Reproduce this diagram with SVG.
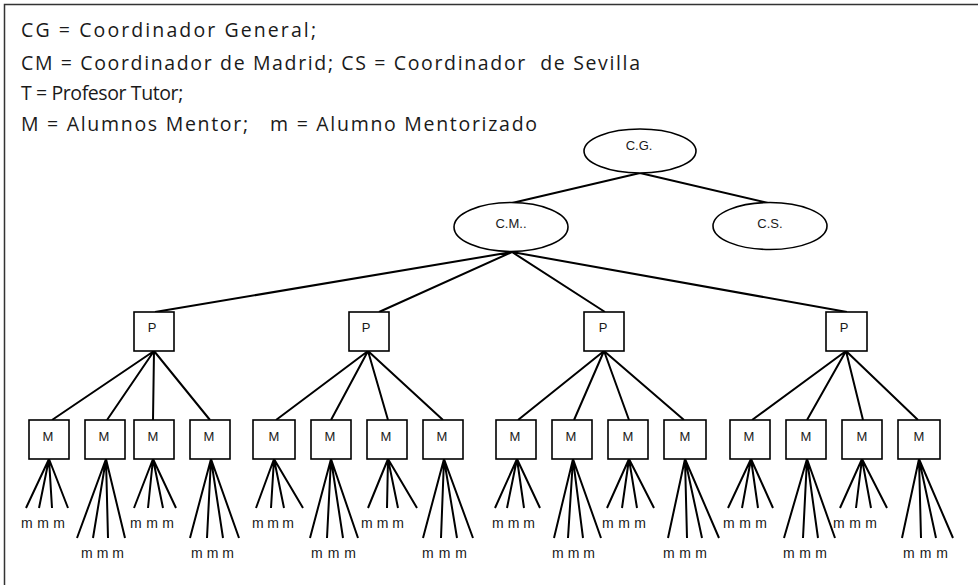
<svg xmlns="http://www.w3.org/2000/svg" width="978" height="585" viewBox="0 0 978 585">
<style>
.leg{font-family:"Open Sans","Noto Sans",sans-serif;font-size:19.5px;fill:#1a1a1a;white-space:pre}
.nd{fill:#fff;stroke:#000;stroke-width:1.6}
.lb{font-family:"Liberation Sans",Arial,sans-serif;font-size:13px;fill:#1a1a1a;text-anchor:middle}
.mm{font-family:"Liberation Sans",Arial,sans-serif;font-size:14px;fill:#1a1a1a;white-space:pre}
.c{stroke:#000;stroke-width:2;fill:none}
</style>
<rect width="978" height="585" fill="#fff"/>
<rect x="4.5" y="4.5" width="1000" height="620" fill="none" stroke="#333" stroke-width="1.5"/>
<g id="legend">
<text class="leg" x="21" y="37" textLength="295" lengthAdjust="spacing">CG = Coordinador General;</text>
<text class="leg" x="21" y="70" textLength="619" lengthAdjust="spacing" xml:space="preserve">CM = Coordinador de Madrid; CS = Coordinador  de Sevilla</text>
<text class="leg" x="21" y="100" style="letter-spacing:-0.4px">T = Profesor Tutor;</text>
<text class="leg" x="21" y="131" textLength="516" lengthAdjust="spacing" xml:space="preserve">M = Alumnos Mentor;   m = Alumno Mentorizado</text>
</g>
<g id="connectors">
<path class="c" d="M640 173L512 203M640 173L768 203"/>
<path class="c" d="M512 252L155 312M512 252L379 312M512 252L605 312M512 252L847 312"/>
<path class="c" d="M154 351L52 420M154 351L107 420M154 351L153 420M154 351L210 420"/>
<path class="c" d="M368 351L276 420M368 351L331 420M368 351L388 420M368 351L443 420"/>
<path class="c" d="M604 351L518 420M604 351L574 420M604 351L629 420M604 351L684 420"/>
<path class="c" d="M846 351L752 420M846 351L807 420M846 351L863 420M846 351L918 420"/>
<path class="c" d="M49 459L26 508M49 459L39 508M49 459L52 508M49 459L68 508"/>
<path class="c" d="M106 459L77 538M106 459L93 538M106 459L108 538M106 459L125 538"/>
<path class="c" d="M153 459L134 508M153 459L148 508M153 459L163 508M153 459L176 508"/>
<path class="c" d="M211 459L190 538M211 459L207 538M211 459L223 538M211 459L239 538"/>
<path class="c" d="M274 459L256 508M274 459L271 508M274 459L284 508M274 459L303 508"/>
<path class="c" d="M331 459L310 538M331 459L327 538M331 459L343 538M331 459L358 538"/>
<path class="c" d="M388 459L368 508M388 459L387 508M388 459L398 508M388 459L417 508"/>
<path class="c" d="M444 459L423 538M444 459L441 538M444 459L457 538M444 459L473 538"/>
<path class="c" d="M517 459L495 508M517 459L507 508M517 459L524 508M517 459L540 508"/>
<path class="c" d="M573 459L554 538M573 459L568 538M573 459L583 538M573 459L601 538"/>
<path class="c" d="M629 459L607 508M629 459L622 508M629 459L637 508M629 459L654 508"/>
<path class="c" d="M685 459L668 538M685 459L687 538M685 459L702 538M685 459L719 538"/>
<path class="c" d="M751 459L728 508M751 459L742 508M751 459L758 508M751 459L773 508"/>
<path class="c" d="M807 459L784 538M807 459L803 538M807 459L818 538M807 459L835 538"/>
<path class="c" d="M862 459L840 508M862 459L856 508M862 459L871 508M862 459L887 508"/>
<path class="c" d="M919 459L902 538M919 459L921 538M919 459L936 538M919 459L953 538"/>
</g>
<g id="CG"><ellipse class="nd" cx="640" cy="151" rx="56" ry="22"/><text class="lb" x="639" y="150">C.G.</text></g>
<g id="CM"><ellipse class="nd" cx="511" cy="227" rx="57" ry="24.5"/><text class="lb" x="511" y="228">C.M..</text></g>
<g id="CS"><ellipse class="nd" cx="770" cy="226" rx="57" ry="23.5"/><text class="lb" x="770" y="228">C.S.</text></g>
<g id="P1"><rect class="nd" x="134" y="312" width="40" height="39"/><text class="lb" x="152" y="332">P</text></g>
<g id="P2"><rect class="nd" x="349" y="312" width="40" height="39"/><text class="lb" x="366" y="332">P</text></g>
<g id="P3"><rect class="nd" x="584" y="312" width="40" height="39"/><text class="lb" x="603" y="332">P</text></g>
<g id="P4"><rect class="nd" x="826" y="312" width="41" height="39"/><text class="lb" x="844" y="332">P</text></g>
<g id="M1"><rect class="nd" x="29" y="420" width="40" height="39"/><text class="lb" x="48" y="441">M</text></g>
<g id="M2"><rect class="nd" x="85" y="420" width="40" height="39"/><text class="lb" x="104" y="441">M</text></g>
<g id="M3"><rect class="nd" x="134" y="420" width="40" height="39"/><text class="lb" x="153" y="441">M</text></g>
<g id="M4"><rect class="nd" x="190" y="420" width="40" height="39"/><text class="lb" x="209" y="441">M</text></g>
<g id="M5"><rect class="nd" x="253" y="420" width="42" height="39"/><text class="lb" x="274" y="441">M</text></g>
<g id="M6"><rect class="nd" x="311" y="420" width="40" height="39"/><text class="lb" x="330" y="441">M</text></g>
<g id="M7"><rect class="nd" x="367" y="420" width="40" height="39"/><text class="lb" x="386" y="441">M</text></g>
<g id="M8"><rect class="nd" x="423" y="420" width="40" height="39"/><text class="lb" x="442" y="441">M</text></g>
<g id="M9"><rect class="nd" x="496" y="420" width="40" height="39"/><text class="lb" x="515" y="441">M</text></g>
<g id="M10"><rect class="nd" x="552" y="420" width="40" height="39"/><text class="lb" x="571" y="441">M</text></g>
<g id="M11"><rect class="nd" x="608" y="420" width="40" height="39"/><text class="lb" x="628" y="441">M</text></g>
<g id="M12"><rect class="nd" x="664" y="420" width="42" height="39"/><text class="lb" x="685" y="441">M</text></g>
<g id="M13"><rect class="nd" x="730" y="420" width="40" height="39"/><text class="lb" x="749" y="441">M</text></g>
<g id="M14"><rect class="nd" x="786" y="420" width="40" height="39"/><text class="lb" x="806" y="441">M</text></g>
<g id="M15"><rect class="nd" x="842" y="420" width="40" height="39"/><text class="lb" x="862" y="441">M</text></g>
<g id="M16"><rect class="nd" x="898" y="420" width="42" height="39"/><text class="lb" x="919" y="441">M</text></g>
<g id="mlabels">
<text class="mm" x="21" y="528" textLength="44">m m m</text>
<text class="mm" x="81" y="558" textLength="43">m m m</text>
<text class="mm" x="130" y="528" textLength="44">m m m</text>
<text class="mm" x="191" y="558" textLength="43">m m m</text>
<text class="mm" x="252" y="528" textLength="42">m m m</text>
<text class="mm" x="311" y="558" textLength="45">m m m</text>
<text class="mm" x="361" y="528" textLength="43">m m m</text>
<text class="mm" x="422" y="558" textLength="45">m m m</text>
<text class="mm" x="492" y="528" textLength="43">m m m</text>
<text class="mm" x="552" y="558" textLength="43">m m m</text>
<text class="mm" x="602" y="528" textLength="44">m m m</text>
<text class="mm" x="663" y="558" textLength="44">m m m</text>
<text class="mm" x="723" y="528" textLength="44">m m m</text>
<text class="mm" x="783" y="558" textLength="44">m m m</text>
<text class="mm" x="833" y="528" textLength="44">m m m</text>
<text class="mm" x="903" y="558" textLength="45">m m m</text>
</g>
</svg>
